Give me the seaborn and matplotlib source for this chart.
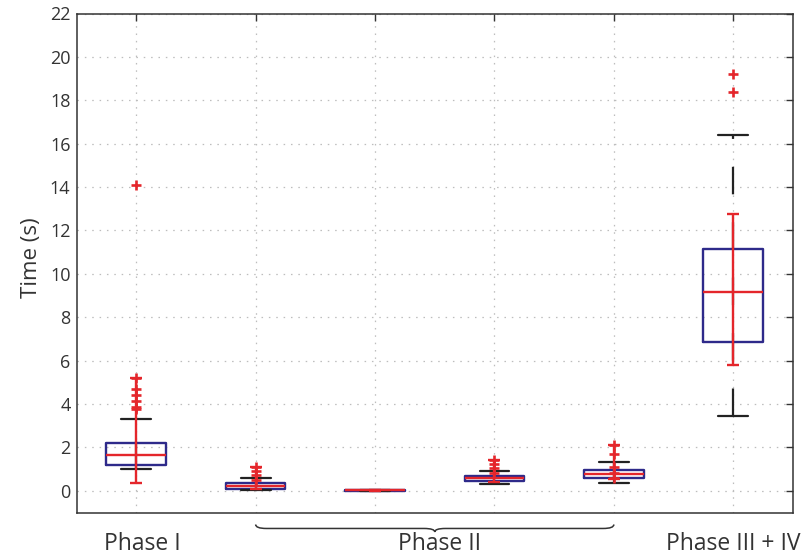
import numpy as np
import pandas as pd
import matplotlib
matplotlib.use("Agg")
import matplotlib.pyplot as plt
import matplotlib.transforms as mtransforms
from matplotlib.path import Path
from matplotlib.patches import PathPatch
import seaborn as sns

# ---------------- data ----------------
positions = [1, 2, 3, 4, 5, 6]
q1 = [1.17, 0.10, 0.00, 0.47, 0.61, 6.84]
medians = [1.67, 0.23, 0.015, 0.60, 0.78, 9.17]
q3 = [2.19, 0.38, 0.03, 0.70, 0.97, 11.13]
whisker_low = [1.01, 0.03, 0.00, 0.32, 0.35, 3.46]
whisker_high = [3.33, 0.60, 0.03, 0.89, 1.35, 16.38]
err_low = [0.34, 0.08, 0.00, 0.41, 0.55, 5.79]
err_high = [5.20, 1.09, 0.05, 1.44, 2.09, 12.78]

outliers_1 = [3.75, 3.85, 4.15, 4.40, 4.68, 5.20, 14.10]
outliers_2 = [0.50, 0.72, 0.90, 1.09]
outliers_3 = []
outliers_4 = [0.81, 1.03, 1.24, 1.44]
outliers_5 = [0.60, 0.84, 1.09, 1.70, 2.09]
outliers_6 = [18.40, 19.19]

group_labels = ["Phase I", "Phase II", "Phase III + IV"]
group_centers = [1, 3.5, 6]
brace_span = (2, 5)

y_ticks = list(range(0, 23, 2))
y_label = "Time (s)"

# ---------------- style ----------------
sns.set_style("white")
plt.rcParams["font.family"] = ["Open Sans", "DejaVu Sans"]
plt.rcParams["lines.scale_dashes"] = False

BLUE = "#2e2a8a"
RED = "#e4262b"
BLACK = "#222222"
AXC = "#333333"

fig = plt.figure(figsize=(8.09, 5.55), dpi=100)
ax = fig.add_axes([76.5 / 809, 1 - 512.5 / 555, 716.5 / 809, 499 / 555])

# grid
for y in y_ticks:
    ax.axhline(y, color="#bdbdbd", lw=0.9, linestyle=(0, (1.1, 4.2)), zorder=0)
for x in positions:
    ax.axvline(x, color="#bdbdbd", lw=0.9, linestyle=(0, (1.1, 4.2)), zorder=0)

# dashed whiskers (single line from lower to upper adjacent value)
ax.vlines(positions, whisker_low, whisker_high, colors=BLACK, lw=1.6,
          linestyles=[(0, (19.8, 20.1))], zorder=2)

stats = []
for i in range(len(positions)):
    stats.append(dict(med=medians[i], q1=q1[i], q3=q3[i],
                      whislo=whisker_low[i], whishi=whisker_high[i], fliers=[]))

ax.bxp(stats, positions=positions, widths=0.5, capwidths=0.25,
       showfliers=False, patch_artist=False,
       boxprops=dict(color=BLUE, lw=1.7),
       whiskerprops=dict(visible=False),
       capprops=dict(color=BLACK, lw=1.6),
       medianprops=dict(color=RED, lw=1.7), zorder=3)

# red error bars
med = np.array(medians)
yerr = [med - np.array(err_low), np.array(err_high) - med]
ax.errorbar(positions, medians, yerr=yerr, fmt="none", ecolor=RED,
            elinewidth=1.7, capsize=4.3, capthick=1.7, zorder=4)

# outliers
out_lists = [outliers_1, outliers_2, outliers_3, outliers_4, outliers_5, outliers_6]
df_out = pd.DataFrame({
    "pos": [p for p, vals in zip(positions, out_lists) for _ in vals],
    "val": [v for vals in out_lists for v in vals],
})
sns.scatterplot(data=df_out, x="pos", y="val", ax=ax, marker="+", s=50,
                color=RED, linewidth=1.9, zorder=5, legend=False)

# axes
ax.set_xlim(0.5, 6.5)
ax.set_ylim(-1, 22)
ax.set_yticks(y_ticks)
ax.set_xticks(positions)
ax.set_xticklabels([""] * len(positions))
ax.set_xlabel("")
ax.set_ylabel("")
ax.tick_params(axis="both", direction="in", length=5, width=1.0, color=AXC,
               top=True, right=True, labelsize=13, labelcolor=AXC, pad=4.3)
for sp in ax.spines.values():
    sp.set_color(AXC)
    sp.set_linewidth(1.1)
    sp.set_zorder(6)

ax.text(-0.0635, 0.51, y_label, transform=ax.transAxes, rotation=90,
        ha="center", va="center", fontsize=16, color=AXC)

# group labels
trans = mtransforms.blended_transform_factory(ax.transData, ax.transAxes)
label_offsets_pt = [4.5, 3.5, 0.0]
for lab, cx, off in zip(group_labels, group_centers, label_offsets_pt):
    t = trans + mtransforms.ScaledTranslation(off / 72, 0, fig.dpi_scale_trans)
    ax.text(cx, -0.0752, lab, transform=t, ha="center", va="baseline",
            fontsize=16.5, color=AXC, clip_on=False)

# curly brace under Phase II
x0, x1 = brace_span
xm = (x0 + x1) / 2
ye, yh, yt = -0.024, -0.032, -0.039
r = 0.09
verts = [(x0, ye), (x0, yh), (x0 + r, yh),
         (xm - r, yh),
         (xm, yh), (xm, yt),
         (xm, yh), (xm + r, yh),
         (x1 - r, yh),
         (x1, yh), (x1, ye)]
codes = [Path.MOVETO, Path.CURVE3, Path.CURVE3,
         Path.LINETO,
         Path.CURVE3, Path.CURVE3,
         Path.CURVE3, Path.CURVE3,
         Path.LINETO,
         Path.CURVE3, Path.CURVE3]
ax.add_patch(PathPatch(Path(verts, codes), transform=trans, fill=False,
                       edgecolor=AXC, lw=1.1, clip_on=False))

fig.savefig("out.png", dpi=100)
